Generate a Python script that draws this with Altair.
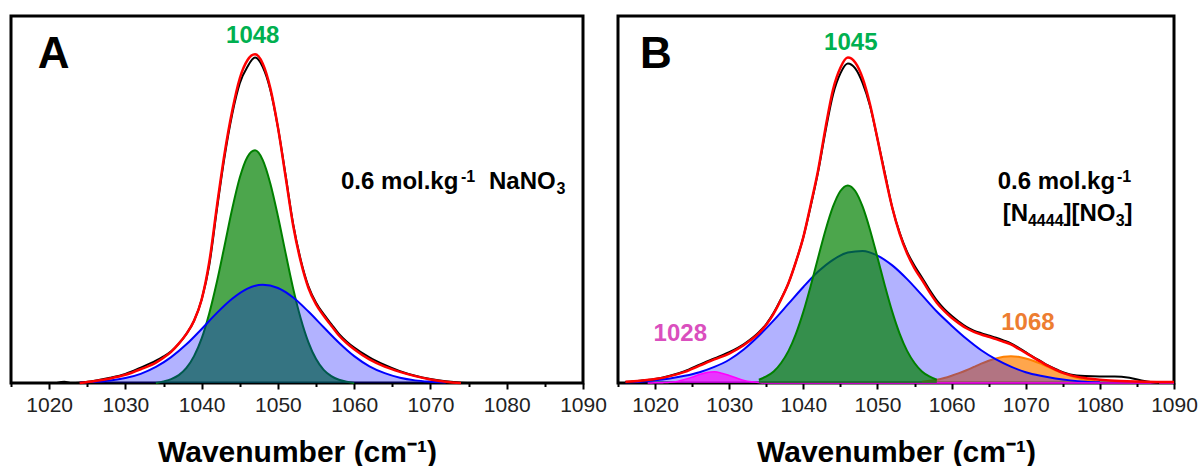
import altair as alt
import pandas as pd

FONT = "Liberation Sans"
X_DOMAIN = [1015, 1090]
Y_DOMAIN = [0, 1.12]
TICK_VALUES = list(range(1015, 1091, 5))

# ---------------- Panel A (NaNO3) ----------------
a_black_x = [1021, 1022, 1023, 1024, 1026, 1028, 1030, 1032, 1034] + list(range(1035, 1061)) + [1062, 1064, 1066, 1068, 1070, 1072, 1074, 1076]
a_black_y = [0.0, 0.004, 0.0, 0.001, 0.007, 0.016, 0.028, 0.047, 0.068,
             0.081, 0.097, 0.12, 0.15, 0.19, 0.255, 0.36, 0.53, 0.69, 0.82,
             0.915, 0.965, 0.993, 0.965, 0.895, 0.78, 0.635, 0.485, 0.375, 0.295,
             0.245, 0.21, 0.18, 0.15, 0.127, 0.108,
             0.078, 0.055, 0.036, 0.022, 0.012, 0.005, 0.001, 0.0]

a_red_x = [1024, 1026, 1028, 1030, 1032, 1034] + list(range(1035, 1061)) + [1062, 1064, 1066, 1068, 1070, 1072, 1074]
a_red_y = [0.0, 0.006, 0.014, 0.025, 0.042, 0.062,
           0.077, 0.095, 0.12, 0.15, 0.19, 0.255, 0.37, 0.54, 0.70, 0.83,
           0.93, 0.985, 1.003, 0.975, 0.90, 0.78, 0.63, 0.48, 0.37, 0.29,
           0.24, 0.205, 0.175, 0.145, 0.122, 0.103,
           0.072, 0.050, 0.034, 0.021, 0.011, 0.004, 0.0]

a_green_x = list(range(1034, 1061))
a_green_y = [0.0, 0.005, 0.012, 0.024, 0.046, 0.082, 0.136, 0.213, 0.309, 0.419,
             0.531, 0.627, 0.690, 0.710, 0.681, 0.609, 0.509, 0.397, 0.288, 0.196,
             0.124, 0.073, 0.040, 0.021, 0.010, 0.004, 0.0]

a_blue_x = list(range(1024, 1073, 2))
a_blue_y = [0.0015, 0.0035, 0.0075, 0.015, 0.028, 0.049, 0.079, 0.118, 0.165, 0.214,
            0.257, 0.288, 0.300, 0.290, 0.261, 0.218, 0.170, 0.123, 0.082, 0.051,
            0.030, 0.016, 0.008, 0.004, 0.0016]

# ---------------- Panel B ([N4444][NO3]) ----------------
b_black_x = [1016, 1018, 1020, 1022, 1024, 1026, 1028, 1030, 1032, 1034] + list(range(1035, 1077)) + [1078, 1080, 1082, 1084, 1086, 1088]
b_black_y = [0.003, 0.007, 0.012, 0.022, 0.036, 0.056, 0.075, 0.094, 0.119, 0.155,
             0.18, 0.214, 0.257, 0.305, 0.37, 0.445, 0.54, 0.645, 0.77, 0.88,
             0.945, 0.975, 0.96, 0.915, 0.845, 0.745, 0.64, 0.535, 0.458, 0.40,
             0.358, 0.322, 0.285, 0.252, 0.226, 0.205, 0.187, 0.171, 0.16, 0.152,
             0.145, 0.138, 0.13, 0.121, 0.108, 0.094, 0.08, 0.067, 0.054, 0.043,
             0.033, 0.026,
             0.021, 0.020, 0.020, 0.016, 0.006, 0.0]

b_red_x = [1016, 1018, 1020, 1022, 1024, 1026, 1028, 1030, 1032, 1034] + list(range(1035, 1077)) + [1078, 1080, 1082, 1086, 1090]
b_red_y = [0.004, 0.007, 0.012, 0.021, 0.034, 0.053, 0.072, 0.090, 0.116, 0.152,
           0.178, 0.212, 0.255, 0.305, 0.37, 0.445, 0.545, 0.65, 0.78, 0.895,
           0.962, 0.993, 0.978, 0.93, 0.85, 0.745, 0.635, 0.535, 0.455, 0.395,
           0.35, 0.315, 0.278, 0.245, 0.22, 0.199, 0.182, 0.167, 0.156, 0.148,
           0.141, 0.134, 0.126, 0.118, 0.105, 0.092, 0.078, 0.065, 0.052, 0.041,
           0.031, 0.024,
           0.015, 0.010, 0.007, 0.004, 0.003]

b_green_x = list(range(1034, 1059))
b_green_y = [0.010, 0.020, 0.035, 0.061, 0.098, 0.150, 0.217, 0.297, 0.383, 0.467,
             0.538, 0.586, 0.603, 0.586, 0.538, 0.467, 0.383, 0.297, 0.217, 0.150,
             0.098, 0.061, 0.035, 0.020, 0.010]

b_blue_x = list(range(1016, 1081, 2))
b_blue_y = [0.002, 0.004, 0.008, 0.014, 0.022, 0.033, 0.049, 0.071, 0.103, 0.144,
            0.191, 0.242, 0.293, 0.340, 0.376, 0.398, 0.403, 0.389, 0.359, 0.317,
            0.268, 0.218, 0.175, 0.135, 0.100, 0.072, 0.050, 0.033, 0.022, 0.014,
            0.008, 0.004, 0.002]

b_orange_x = list(range(1056, 1081))
b_orange_y = [0.004, 0.007, 0.010, 0.015, 0.022, 0.030, 0.039, 0.049, 0.059, 0.068,
              0.075, 0.080, 0.082, 0.080, 0.075, 0.068, 0.059, 0.049, 0.039, 0.030,
              0.022, 0.015, 0.010, 0.007, 0.004]

b_magenta_x = list(range(1019, 1036)) + [1090]
b_magenta_y = [0.0, 0.0005, 0.001, 0.002, 0.005, 0.011, 0.018, 0.026, 0.032, 0.034,
               0.030, 0.023, 0.015, 0.008, 0.004, 0.0016, 0.0, 0.0]

# Annotations: (text, anchor wavenumber, anchor intensity)
a_panel_letter = ("A", 1020.6, 0.961)
a_peak_label = ("1048", 1046.7, 1.038)
a_desc_main = [("0.6 mol.kg", 1058.27, 0.591), ("NaNO", 1077.67, 0.591)]
a_desc_small = [("-1", 1074.0, 0.613), ("3", 1086.52, 0.576)]

b_panel_letter = ("B", 1020.1, 0.961)
b_peak_label = ("1045", 1046.4, 1.015)
b_desc_main = [("0.6 mol.kg", 1066.22, 0.591), ("[N", 1066.9, 0.494),
               ("][NO", 1075.1, 0.494), ("]", 1083.33, 0.494)]
b_desc_small = [("-1", 1082.31, 0.613), ("4444", 1070.3, 0.479), ("3", 1082.13, 0.479)]
b_label_1028 = ("1028", 1023.4, 0.128)
b_label_1068 = ("1068", 1070.3, 0.161)


def frame(xs, ys):
    return pd.DataFrame({"x": xs, "y": ys})


x_axis = alt.Axis(
    values=TICK_VALUES,
    format="d",
    labelExpr="datum.value % 10 == 0 ? datum.label : ''",
    tickSize={"condition": {"test": "datum.value % 10 != 0", "value": 3.5}, "value": 6},
    tickWidth=2,
    tickColor="black",
    domain=False,
    grid=False,
    labelFont=FONT,
    labelFontSize=21,
    labelColor="#222222",
    labelBaseline="alphabetic",
    labelPadding=22,
    labelFlush=False,
    labelOverlap=False,
    title="Wavenumber (cm\u207b\u00b9)",
    titleFont=FONT,
    titleFontSize=30,
    titleFontWeight="bold",
    titleColor="black",
    titleBaseline="alphabetic",
    titleY=78,
)


def X():
    return alt.X("x:Q", scale=alt.Scale(domain=X_DOMAIN, nice=False, zero=False), axis=x_axis)


def Y():
    return alt.Y("y:Q", scale=alt.Scale(domain=Y_DOMAIN, nice=False, zero=False), axis=None)


def area(xs, ys, color, opacity):
    return alt.Chart(frame(xs, ys)).mark_area(
        color=color, fillOpacity=opacity, interpolate="monotone"
    ).encode(x=X(), y=Y())


def line(xs, ys, color, width):
    return alt.Chart(frame(xs, ys)).mark_line(
        color=color, strokeWidth=width, interpolate="monotone"
    ).encode(x=X(), y=Y())


def labels(items, size, color="black", align="left"):
    df = pd.DataFrame({"t": [i[0] for i in items], "x": [i[1] for i in items], "y": [i[2] for i in items]})
    return alt.Chart(df).mark_text(
        font=FONT, fontSize=size, fontWeight="bold", color=color, align=align, baseline="alphabetic"
    ).encode(x=X(), y=Y(), text="t:N")


GREEN = "#008000"
BLUE = "#0000FF"
ORANGE = "#FF8000"
MAGENTA = "#FF00FF"

panel_a = alt.layer(
    area(a_green_x, a_green_y, GREEN, 0.7),
    line(a_green_x, a_green_y, GREEN, 2),
    area(a_blue_x, a_blue_y, BLUE, 0.3),
    line(a_blue_x, a_blue_y, BLUE, 2),
    line(a_black_x, a_black_y, "black", 2),
    line(a_red_x, a_red_y, "#FF0000", 2.5),
    labels([a_panel_letter], 44, align="center"),
    labels([a_peak_label], 24, "#00B050", "center"),
    labels(a_desc_main, 24),
    labels(a_desc_small, 16),
).properties(width=572, height=367)

panel_b = alt.layer(
    area(b_orange_x, b_orange_y, ORANGE, 0.7),
    line(b_orange_x, b_orange_y, ORANGE, 2),
    area(b_blue_x, b_blue_y, BLUE, 0.3),
    line(b_blue_x, b_blue_y, BLUE, 2),
    area(b_magenta_x, b_magenta_y, MAGENTA, 0.7),
    line(b_magenta_x, b_magenta_y, MAGENTA, 1.5),
    area(b_green_x, b_green_y, GREEN, 0.7),
    line(b_green_x, b_green_y, GREEN, 2),
    line(b_black_x, b_black_y, "black", 2),
    line(b_red_x, b_red_y, "#FF0000", 2.5),
    labels([b_panel_letter], 44, align="center"),
    labels([b_peak_label], 24, "#00B050", "center"),
    labels(b_desc_main, 24),
    labels(b_desc_small, 16),
    labels([b_label_1028], 24, "#DA4FBE", "center"),
    labels([b_label_1068], 24, "#ED7D31", "center"),
).properties(width=556, height=367)

chart = alt.hconcat(panel_a, panel_b, spacing=35, bounds="flush").properties(
    padding={"left": 8, "top": 14, "right": 0, "bottom": 0}
).configure_view(stroke="black", strokeWidth=3)

chart.save("out.html", embed_options={"renderer": "svg", "actions": False})
